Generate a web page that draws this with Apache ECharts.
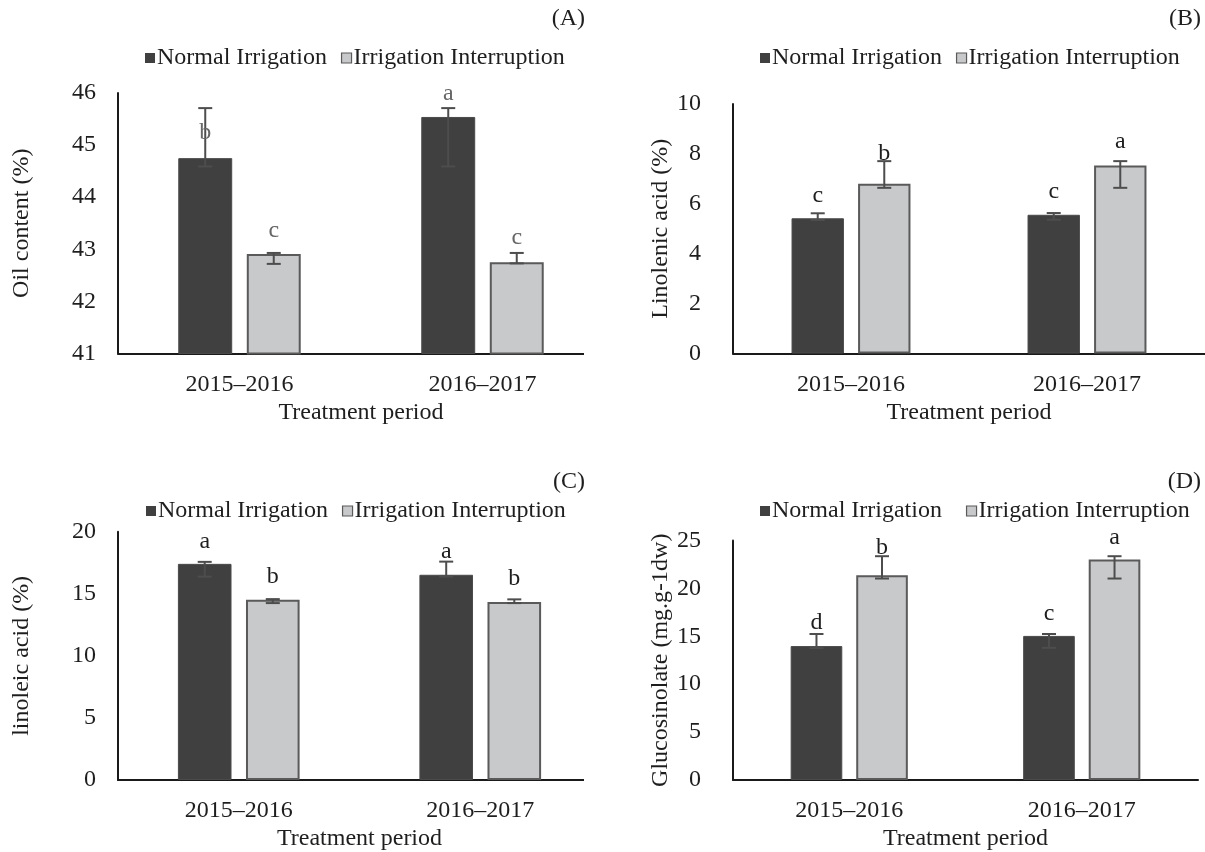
<!DOCTYPE html>
<html>
<head>
<meta charset="utf-8">
<script src="https://cdn.jsdelivr.net/npm/echarts@6/dist/echarts.min.js"></script>
<style>
  html, body { margin: 0; padding: 0; background: #fff; }
  #chart { width: 1205px; height: 852px; }
</style>
</head>
<body>
<div id="chart"></div>
<script>
// Treatment periods and treatments
const periods = ['2015–2016', '2016–2017'];
const treatments = ['Normal Irrigation', 'Irrigation Interruption'];

// (A) Oil content (%)
const oilNormal = [44.75, 45.54];
const oilNormalLow = [44.59, 44.59];
const oilNormalHigh = [45.71, 45.71];
const oilInterrupt = [42.91, 42.75];
const oilInterruptLow = [42.72, 42.73];
const oilInterruptHigh = [42.93, 42.93];
const oilNormalLetters = ['b', 'a'];
const oilNormalLetterAt = [45.23, 45.99];
const oilInterruptLetters = ['c', 'c'];
const oilInterruptLetterAt = [43.35, 43.22];

// (B) Linolenic acid (%)
const linolenicNormal = [5.42, 5.56];
const linolenicNormalLow = [5.35, 5.36];
const linolenicNormalHigh = [5.62, 5.63];
const linolenicInterrupt = [6.80, 7.54];
const linolenicInterruptLow = [6.64, 6.64];
const linolenicInterruptHigh = [7.71, 7.71];
const linolenicNormalLetters = ['c', 'c'];
const linolenicNormalLetterAt = [6.31, 6.48];
const linolenicInterruptLetters = ['b', 'a'];
const linolenicInterruptLetterAt = [8.02, 8.49];

// (C) Linoleic acid (%)
const linoleicNormal = [17.41, 16.53];
const linoleicNormalLow = [16.38, 16.38];
const linoleicNormalHigh = [17.57, 17.59];
const linoleicInterrupt = [14.52, 14.33];
const linoleicInterruptLow = [14.25, 14.25];
const linoleicInterruptHigh = [14.57, 14.55];
const linoleicNormalLetters = ['a', 'a'];
const linoleicNormalLetterAt = [19.2, 18.36];
const linoleicInterruptLetters = ['b', 'b'];
const linoleicInterruptLetterAt = [16.4, 16.2];

// (D) Glucosinolate (mg.g-1dw)
const glucNormal = [13.98, 15.04];
const glucNormalLow = [13.77, 13.80];
const glucNormalHigh = [15.24, 15.24];
const glucInterrupt = [21.38, 23.02];
const glucInterruptLow = [21.03, 21.03];
const glucInterruptHigh = [23.36, 23.36];
const glucNormalLetters = ['d', 'c'];
const glucNormalLetterAt = [16.44, 17.4];
const glucInterruptLetters = ['b', 'a'];
const glucInterruptLetterAt = [24.3, 25.3];

// Y axis tick settings per panel
const yMin = [41, 0, 0, 0];
const yMax = [46, 10, 20, 25];
const yStep = [1, 2, 5, 5];
const yNames = ['Oil content (%)', 'Linolenic acid (%)', 'linoleic acid (%)', 'Glucosinolate (mg.g-1dw)'];
const panelTags = ['(A)', '(B)', '(C)', '(D)'];

const FONT = '"Liberation Serif", "Times New Roman", serif';
const TEXT = '#1e1e1e';
const DARK = '#404040';
const LIGHT = '#c8c9cb';
const EDGE = '#5a5a5a';
const BAR_FRAC = 0.222;
const GAP_FRAC = 0.27;

const grids = [
  { left: 118, top: 93, width: 486, height: 260.5 },
  { left: 733, top: 104, width: 486, height: 249.5 },
  { left: 118, top: 531.7, width: 483, height: 251.6 },
  { left: 733, top: 540.5, width: 465, height: 242.8 }
];

const panels = [
  { n: oilNormal, nLo: oilNormalLow, nHi: oilNormalHigh, i: oilInterrupt, iLo: oilInterruptLow, iHi: oilInterruptHigh,
    nL: oilNormalLetters, nLA: oilNormalLetterAt, iL: oilInterruptLetters, iLA: oilInterruptLetterAt, letterColor: '#666' },
  { n: linolenicNormal, nLo: linolenicNormalLow, nHi: linolenicNormalHigh, i: linolenicInterrupt, iLo: linolenicInterruptLow, iHi: linolenicInterruptHigh,
    nL: linolenicNormalLetters, nLA: linolenicNormalLetterAt, iL: linolenicInterruptLetters, iLA: linolenicInterruptLetterAt, letterColor: TEXT },
  { n: linoleicNormal, nLo: linoleicNormalLow, nHi: linoleicNormalHigh, i: linoleicInterrupt, iLo: linoleicInterruptLow, iHi: linoleicInterruptHigh,
    nL: linoleicNormalLetters, nLA: linoleicNormalLetterAt, iL: linoleicInterruptLetters, iLA: linoleicInterruptLetterAt, letterColor: TEXT },
  { n: glucNormal, nLo: glucNormalLow, nHi: glucNormalHigh, i: glucInterrupt, iLo: glucInterruptLow, iHi: glucInterruptHigh,
    nL: glucNormalLetters, nLA: glucNormalLetterAt, iL: glucInterruptLetters, iLA: glucInterruptLetterAt, letterColor: TEXT }
];

// Error bar with its significance letter, placed over the matching bar of a group
function errorBars(p, side, lo, hi, letters, letterAt, letterColor) {
  return {
    type: 'custom',
    xAxisIndex: p,
    yAxisIndex: p,
    z: 5,
    silent: true,
    data: periods.map((_, k) => [k, lo[k], hi[k], letterAt[k]]),
    renderItem(params, api) {
      const cat = api.value(0);
      const catW = api.size([1, 0])[0];
      const barW = catW * BAR_FRAC;
      const shift = side * (barW + barW * GAP_FRAC) / 2;
      const a = api.coord([cat, api.value(1)]);
      const b = api.coord([cat, api.value(2)]);
      const t = api.coord([cat, api.value(3)]);
      const x = a[0] + shift;
      const cap = 7;
      const ls = { stroke: '#4d4d4d', lineWidth: 2 };
      return {
        type: 'group',
        children: [
          { type: 'line', shape: { x1: x, y1: a[1], x2: x, y2: b[1] }, style: ls },
          { type: 'line', shape: { x1: x - cap, y1: b[1], x2: x + cap, y2: b[1] }, style: ls },
          { type: 'line', shape: { x1: x - cap, y1: a[1], x2: x + cap, y2: a[1] }, style: ls },
          { type: 'text', style: { text: letters[params.dataIndex], x: x, y: t[1], fill: letterColor,
              font: '24px ' + FONT, align: 'center', verticalAlign: 'middle' } }
        ]
      };
    }
  };
}

const series = [];
panels.forEach((pd, p) => {
  series.push({
    name: treatments[0], type: 'bar', xAxisIndex: p, yAxisIndex: p,
    data: pd.n, barWidth: (BAR_FRAC * 100) + '%', barGap: (GAP_FRAC * 100) + '%',
    itemStyle: { color: DARK, borderColor: '#4a4a4a', borderWidth: 1 }
  });
  series.push({
    name: treatments[1], type: 'bar', xAxisIndex: p, yAxisIndex: p,
    data: pd.i, barWidth: (BAR_FRAC * 100) + '%', barGap: (GAP_FRAC * 100) + '%',
    itemStyle: { color: LIGHT, borderColor: EDGE, borderWidth: 2 }
  });
  series.push(errorBars(p, -1, pd.nLo, pd.nHi, pd.nL, pd.nLA, pd.letterColor));
  series.push(errorBars(p, 1, pd.iLo, pd.iHi, pd.iL, pd.iLA, pd.letterColor));
});

const legendTops = [46, 46, 499, 499];
const legendLefts = [145, 760, 146, 760];
const legendGaps = [14, 14, 14, 24];

const option = {
  backgroundColor: '#fff',
  animation: false,
  textStyle: { fontFamily: FONT, color: TEXT },
  title: panelTags.map((tg, p) => ({
    text: tg,
    right: p % 2 === 0 ? 620 : 4,
    top: p < 2 ? 7 : 470,
    padding: 0,
    textStyle: { fontFamily: FONT, fontSize: 24, fontWeight: 'normal', color: TEXT }
  })),
  legend: panels.map((_, p) => ({
    data: [
      { name: treatments[0], itemStyle: { borderWidth: 0 } },
      { name: treatments[1], itemStyle: { borderWidth: 1.2, borderColor: EDGE } }
    ],
    left: legendLefts[p],
    top: legendTops[p],
    padding: 0,
    itemWidth: 10,
    itemHeight: 10,
    itemGap: legendGaps[p],
    icon: 'rect',
    selectedMode: false,
    textStyle: { fontFamily: FONT, fontSize: 24, color: TEXT, padding: [0, 0, 0, -3] }
  })),
  grid: grids.map(g => Object.assign({ containLabel: false }, g)),
  xAxis: panels.map((_, p) => ({
    type: 'category',
    gridIndex: p,
    data: periods,
    name: 'Treatment period',
    nameLocation: 'middle',
    nameGap: 47,
    nameTextStyle: { fontFamily: FONT, fontSize: 24, color: TEXT },
    axisLine: { show: true, lineStyle: { color: '#1a1a1a', width: 2 } },
    axisTick: { show: false },
    axisLabel: { fontFamily: FONT, fontSize: 24, color: TEXT, margin: 19 }
  })),
  yAxis: panels.map((_, p) => ({
    type: 'value',
    gridIndex: p,
    min: yMin[p],
    max: yMax[p],
    interval: yStep[p],
    name: yNames[p],
    nameLocation: 'middle',
    nameRotate: 90,
    nameGap: p % 2 === 0 ? 84 : 58,
    nameTextStyle: { fontFamily: FONT, fontSize: 24, color: TEXT },
    axisLine: { show: true, lineStyle: { color: '#1a1a1a', width: 2 } },
    axisTick: { show: false },
    splitLine: { show: false },
    axisLabel: { fontFamily: FONT, fontSize: 24, color: TEXT, margin: p % 2 === 0 ? 22 : 32 }
  })),
  // the left-hand panels stop their baseline short of the grid edge
  graphic: [
    { type: 'rect', shape: { x: 584, y: 348, width: 24, height: 12 }, style: { fill: '#fff' }, z: 100 },
    { type: 'rect', shape: { x: 584, y: 778, width: 24, height: 12 }, style: { fill: '#fff' }, z: 100 }
  ],
  series: series
};

const chart = echarts.init(document.getElementById('chart'), null, { renderer: 'canvas' });
chart.setOption(option);
</script>
</body>
</html>
